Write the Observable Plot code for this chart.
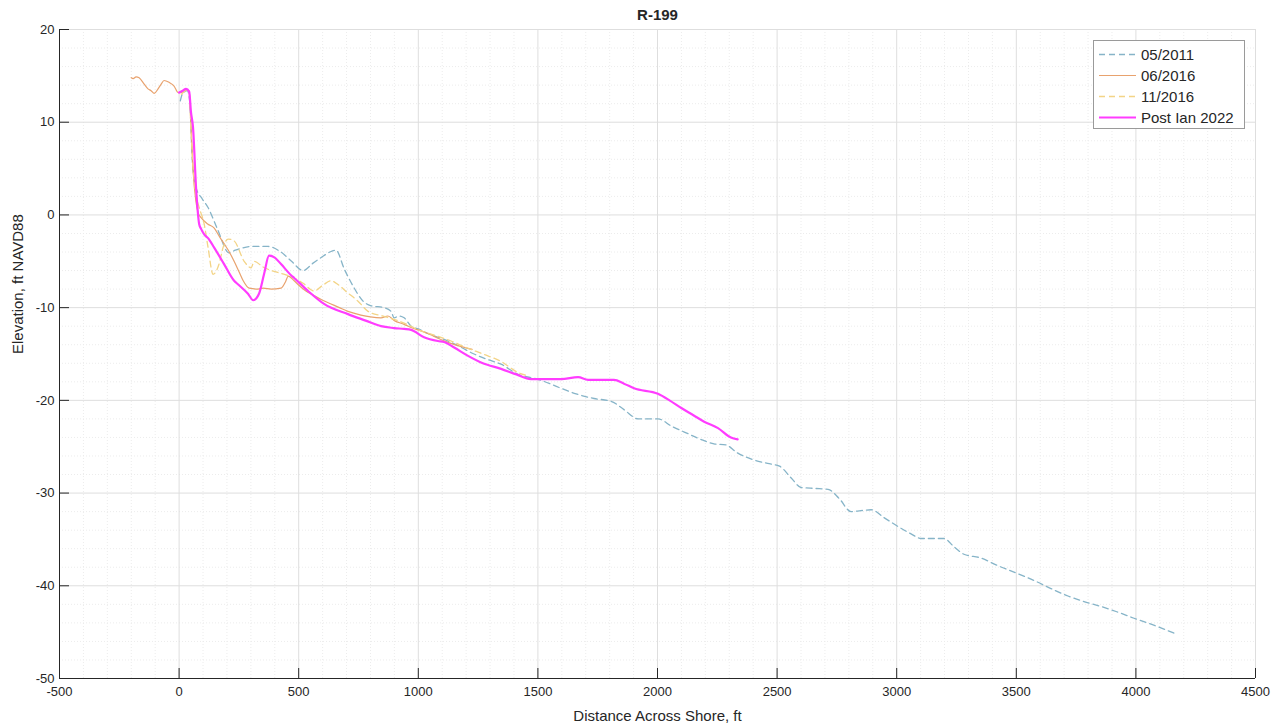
<!DOCTYPE html>
<html><head><meta charset="utf-8">
<script src="https://cdn.jsdelivr.net/npm/d3@7"></script>
<script src="https://cdn.jsdelivr.net/npm/@observablehq/plot@0.6"></script>
<style>
body{margin:0;background:#fff;font-family:"Liberation Sans",Arial,sans-serif}
#wrap{position:relative;width:1286px;height:728px}
#legend{position:absolute;left:1093px;top:40px;width:150px;height:87px;border:1px solid #9a9a9a;background:#fff}
.row{position:absolute;left:0;height:21px;width:150px}
.row svg{position:absolute;left:5px;top:0}
.row span{position:absolute;left:47px;top:2px;font-size:15px;color:#262626;white-space:nowrap}
</style></head>
<body><div id="wrap"><div id="legend"></div></div>
<script>
// ---- data ----
const title = "R-199";
const xLabel = "Distance Across Shore, ft";
const yLabel = "Elevation, ft NAVD88";
const xDomain = [-500, 4500];
const yDomain = [-50, 20];
const xTicks = [-500, 0, 500, 1000, 1500, 2000, 2500, 3000, 3500, 4000, 4500];
const yTicks = [-50, -40, -30, -20, -10, 0, 10, 20];
const seriesNames = ["05/2011", "06/2016", "11/2016", "Post Ian 2022"];

const may2011X = [5,15,35,45,55,71,95,121,160,209,235,259,300,372,420,470,518,560,594,630,656,690,730,769,803,857,886,899,920,941,970,1000,1050,1095,1150,1233,1290,1346,1417,1496,1550,1597,1660,1735,1806,1860,1919,2002,2060,2128,2190,2236,2286,2330,2400,2460,2510,2560,2600,2660,2713,2760,2809,2850,2893,2950,3018,3060,3102,3198,3240,3281,3352,3420,3507,3580,3645,3716,3783,3850,3920,3992,4080,4159];
const may2011Y = [12.3,13.1,13.4,12.0,6.0,2.9,1.8,0.8,-1.5,-4.1,-3.8,-3.6,-3.4,-3.4,-3.9,-5.0,-6.0,-5.2,-4.6,-4.0,-3.8,-5.8,-7.8,-9.3,-9.8,-10.0,-10.4,-11.1,-10.9,-11.1,-12.0,-12.3,-12.9,-13.3,-13.9,-15.0,-15.6,-16.1,-17.2,-17.7,-18.2,-18.7,-19.3,-19.8,-20.1,-21.0,-22.0,-22.0,-22.8,-23.6,-24.3,-24.7,-24.8,-25.6,-26.4,-26.8,-27.1,-28.4,-29.4,-29.5,-29.6,-30.6,-32.0,-31.9,-31.8,-32.7,-33.8,-34.4,-34.9,-34.9,-35.8,-36.6,-37.0,-37.8,-38.7,-39.5,-40.3,-41.1,-41.7,-42.2,-42.8,-43.5,-44.3,-45.1];

const jun2016X = [-200,-192,-180,-167,-146,-130,-117,-104,-88,-75,-63,-42,-21,-4,10,29,42,50,58,70,80,92,121,146,170,188,210,230,250,268,293,330,351,385,426,445,456,481,497,530,564,600,635,670,706,760,800,844,873,900,941,975,1012,1050,1082,1130,1180,1225];
const jun2016Y = [14.8,14.7,14.9,14.8,14.1,13.6,13.4,13.1,13.6,14.1,14.5,14.3,13.9,13.2,13.2,13.5,13.4,9.5,5.0,1.5,0.2,-0.3,-1.0,-1.4,-2.4,-3.1,-4.0,-5.0,-6.1,-7.1,-7.9,-8.0,-7.9,-8.0,-7.9,-7.2,-6.6,-7.1,-7.5,-8.2,-8.7,-9.2,-9.6,-10.0,-10.4,-10.8,-11.0,-11.1,-10.9,-11.4,-11.8,-12.2,-12.5,-12.9,-13.3,-13.8,-14.2,-14.5];

const nov2016X = [10,30,42,50,60,72,84,105,121,142,167,184,205,230,272,301,314,350,385,426,481,520,564,600,635,664,700,748,790,850,915,960,1000,1060,1137,1200,1270,1346,1417,1450];
const nov2016Y = [13.0,13.4,13.2,9.0,4.5,2.0,0.8,-1.0,-3.5,-6.4,-5.3,-3.5,-2.6,-2.8,-5.0,-5.7,-5.0,-5.6,-6.0,-6.3,-6.8,-7.4,-8.2,-7.6,-7.1,-7.5,-8.3,-9.3,-10.4,-10.9,-11.4,-11.9,-12.4,-12.9,-13.6,-14.3,-15.0,-15.8,-17.0,-17.3];

const ian2022X = [0,15,29,42,50,58,71,84,92,105,121,146,188,230,247,288,310,334,355,376,400,426,468,481,539,606,706,780,844,899,941,970,1024,1082,1108,1150,1208,1270,1346,1410,1471,1513,1597,1668,1710,1818,1860,1902,2002,2050,2098,2150,2195,2253,2307,2335];
const ian2022Y = [13.2,13.4,13.6,13.3,11.0,9.5,2.9,-1.0,-1.5,-2.1,-2.5,-3.5,-5.3,-7.1,-7.5,-8.5,-9.2,-8.5,-6.4,-4.4,-4.6,-5.3,-6.5,-6.8,-8.2,-9.6,-10.7,-11.4,-12.0,-12.2,-12.3,-12.4,-13.2,-13.6,-13.7,-14.3,-15.2,-16.0,-16.6,-17.2,-17.7,-17.7,-17.7,-17.5,-17.8,-17.8,-18.2,-18.7,-19.3,-20.0,-20.8,-21.6,-22.3,-23.0,-24.0,-24.2];

// ---- styles ----
const styles = [
  {stroke: "#86b4c8", strokeWidth: 1.3, dash: "6,4"},
  {stroke: "#e8a26e", strokeWidth: 1.2, dash: null},
  {stroke: "#f3d486", strokeWidth: 1.3, dash: "6,4"},
  {stroke: "#ff3cff", strokeWidth: 2.2, dash: null}
];
const toRows = (xs, ys) => xs.map((x, i) => ({x, y: ys[i]}));
const series = [
  toRows(may2011X, may2011Y),
  toRows(jun2016X, jun2016Y),
  toRows(nov2016X, nov2016Y),
  toRows(ian2022X, ian2022Y)
];

const xMinor = d3.range(xDomain[0], xDomain[1] + 1, 100).filter(v => !xTicks.includes(v));
const yMinor = d3.range(yDomain[0], yDomain[1] + 1, 2).filter(v => !yTicks.includes(v));

const axisColor = "#262626";
const chart = Plot.plot({
  width: 1286,
  height: 728,
  marginLeft: 59,
  marginRight: 31,
  marginTop: 29,
  marginBottom: 50,
  style: {fontFamily: "'Liberation Sans', Arial, sans-serif", background: "#fff", color: axisColor},
  x: {domain: xDomain},
  y: {domain: yDomain},
  marks: [
    Plot.gridX(xMinor, {stroke: "#ececec", strokeOpacity: 1, strokeDasharray: "1,2"}),
    Plot.gridY(yMinor, {stroke: "#ececec", strokeOpacity: 1, strokeDasharray: "1,2"}),
    Plot.gridX(xTicks, {stroke: "#dedede", strokeOpacity: 1}),
    Plot.gridY(yTicks, {stroke: "#dedede", strokeOpacity: 1}),
    Plot.ruleX([xDomain[0]], {stroke: axisColor, strokeWidth: 1}),
    Plot.ruleY([yDomain[0]], {stroke: axisColor, strokeWidth: 1}),
    Plot.axisX(xTicks, {anchor: "bottom", tickSize: 10, dy: -10, tickFormat: () => "", label: null, stroke: axisColor}),
    Plot.axisY(yTicks, {anchor: "left", tickSize: 10, dx: 10, tickFormat: () => "", label: null, stroke: axisColor}),
    Plot.axisX(xTicks, {anchor: "bottom", tickSize: 0, tickPadding: 8, label: null, fontSize: 13, tickFormat: d => String(d)}),
    Plot.axisY(yTicks, {anchor: "left", tickSize: 0, tickPadding: 5, label: null, fontSize: 13, tickFormat: d => String(d)}),
    ...series.map((rows, i) => Plot.line(rows, {
      x: "x", y: "y",
      stroke: styles[i].stroke,
      strokeWidth: styles[i].strokeWidth,
      strokeDasharray: styles[i].dash,
      curve: "monotone-x"
    })),
    Plot.text([title], {frameAnchor: "top", dy: -20, fontSize: 15, fontWeight: "bold", fill: axisColor}),
    Plot.text([xLabel], {frameAnchor: "bottom", dy: 42, fontSize: 15, fill: axisColor}),
    Plot.text([yLabel], {frameAnchor: "left", dx: -41, rotate: -90, fontSize: 15, fill: axisColor})
  ]
});
document.getElementById("wrap").prepend(chart);

// legend
const legend = document.getElementById("legend");
seriesNames.forEach((name, i) => {
  const row = document.createElement("div");
  row.className = "row";
  row.style.top = (2.5 + i * 21) + "px";
  const s = styles[i];
  row.innerHTML = `<svg width="37" height="21"><line x1="0" x2="37" y1="10.5" y2="10.5" stroke="${s.stroke}" stroke-width="${s.strokeWidth}" ${s.dash ? `stroke-dasharray="${s.dash}"` : ""}/></svg><span>${name}</span>`;
  legend.appendChild(row);
});
</script>
</body></html>
